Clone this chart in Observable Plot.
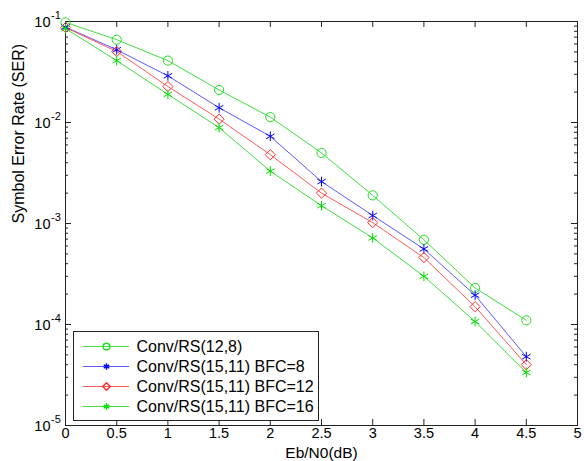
<!DOCTYPE html>
<html>
<head>
<meta charset="utf-8">
<script src="https://cdn.jsdelivr.net/npm/d3@7"></script>
<script src="https://cdn.jsdelivr.net/npm/@observablehq/plot@0.6"></script>
<style>
  html, body { margin: 0; padding: 0; background: #fff; }
  #wrap { position: relative; width: 584px; height: 461px; overflow: hidden; font-family: 'Liberation Sans', Arial, sans-serif; }
  #legend { position: absolute; left: 73px; top: 331px; }
</style>
</head>
<body>
<div id="wrap"><div id="chart"></div><div id="legend"></div></div>
<script>
// ---- data ----
const ebn0 = [0, 0.5, 1, 1.5, 2, 2.5, 3, 3.5, 4, 4.5];
const seriesNames = ["Conv/RS(12,8)", "Conv/RS(15,11) BFC=8", "Conv/RS(15,11) BFC=12", "Conv/RS(15,11) BFC=16"];
const serRS128 = [0.098, 0.066, 0.041, 0.021, 0.0113, 0.0050, 0.0019, 0.00069, 0.00023, 0.00011];
const serBFC8  = [0.088, 0.0525, 0.029, 0.014, 0.0073, 0.0026, 0.0012, 0.00056, 0.000195, 0.000048];
const serBFC12 = [0.087, 0.0505, 0.0227, 0.0108, 0.0048, 0.0020, 0.00102, 0.00046, 0.00015, 0.000040];
const serBFC16 = [0.085, 0.041, 0.019, 0.0089, 0.0033, 0.0015, 0.00072, 0.00030, 0.000107, 0.0000335];
const xTickValues = [0, 0.5, 1, 1.5, 2, 2.5, 3, 3.5, 4, 4.5, 5];
const xTickLabels = ["0", "0.5", "1", "1.5", "2", "2.5", "3", "3.5", "4", "4.5", "5"];
const yTickValues = [1e-1, 1e-2, 1e-3, 1e-4, 1e-5];
const yTickExponents = ["-1", "-2", "-3", "-4", "-5"];
const xLabel = "Eb/N0(dB)";
const yLabel = "Symbol Error Rate (SER)";

// ---- styles ----
const lineColors = ["#3ee03e", "#5a5aff", "#ff5a5a", "#3ee03e"];
const markColors = ["#22dd22", "#0000ff", "#ff3030", "#00dd00"];
const symbols = ["circle", "asterisk", "diamond2", "asterisk"];
const legendR = [5, 4, 5.2, 4];
const FONT = "'Liberation Sans', Arial, sans-serif";

const allSeries = [serRS128, serBFC8, serBFC12, serBFC16];
const rows = [];
allSeries.forEach((s, si) => s.forEach((v, i) => rows.push({name: seriesNames[si], si, x: ebn0[i], y: v})));

const yMinor = [];
for (const dec of yTickValues.slice(1)) for (let m = 2; m <= 9; m++) yMinor.push(m * dec);
const xTicks = xTickValues.map((v, i) => ({v, label: xTickLabels[i]}));
const yTicks = yTickValues.map((v, i) => ({v, e: yTickExponents[i]}));

const W = 584, H = 461, ML = 65, MR = 7, MT = 21, MB = 36;
const PW = W - ML - MR, PH = H - MT - MB;

const chart = Plot.plot({
  width: W, height: H,
  marginLeft: ML, marginRight: MR, marginTop: MT, marginBottom: MB,
  style: {fontFamily: FONT, background: "#fff", color: "#000"},
  x: {domain: [0, 5], axis: null},
  y: {type: "log", domain: [1e-5, 1e-1], axis: null},
  marks: [
    // ticks (inward), all four sides
    Plot.ruleX(xTickValues, {x: d => d, insetTop: PH - 6, stroke: "#222"}),
    Plot.ruleX(xTickValues, {x: d => d, insetBottom: PH - 6, stroke: "#222"}),
    Plot.ruleY(yTickValues, {y: d => d, insetRight: PW - 6, stroke: "#222"}),
    Plot.ruleY(yTickValues, {y: d => d, insetLeft: PW - 6, stroke: "#222"}),
    Plot.ruleY(yMinor, {y: d => d, insetRight: PW - 3, stroke: "#222"}),
    Plot.ruleY(yMinor, {y: d => d, insetLeft: PW - 3, stroke: "#222"}),
    Plot.frame({stroke: "#222"}),
    // tick labels
    Plot.text(xTicks, {x: "v", text: "label", frameAnchor: "bottom", dy: 12, fontSize: 14.5}),
    Plot.text(yTicks, {y: "v", text: () => "10", frameAnchor: "left", dx: -15, dy: 1, textAnchor: "end", fontSize: 14.5}),
    Plot.text(yTicks, {y: "v", text: "e", frameAnchor: "left", dx: -14.5, dy: -6, textAnchor: "start", fontSize: 11}),
    // axis labels
    Plot.text([xLabel], {text: d => d, frameAnchor: "bottom", dy: 32, fontSize: 15.5}),
    Plot.text([yLabel], {text: d => d, frameAnchor: "left", dx: -47, rotate: -90, fontSize: 16}),
    // data
    Plot.line(rows, {x: "x", y: "y", z: "name", stroke: d => lineColors[d.si], strokeWidth: 1}),
    Plot.dot(rows, {x: "x", y: "y", symbol: d => symbols[d.si], stroke: d => markColors[d.si], r: 4.6, strokeWidth: 1})
  ]
});
document.getElementById("chart").appendChild(chart);

// ---- legend ----
const LW = 245, LH = 89;
const legRows = seriesNames.map((name, si) => ({name, si}));
const legend = Plot.plot({
  width: LW, height: LH,
  margin: 0,
  style: {fontFamily: FONT, background: "#fff", color: "#000", overflow: "visible"},
  y: {type: "point", domain: seriesNames, range: [14, 75.5], padding: 0, axis: null},
  marks: [
    Plot.frame({stroke: "#222", fill: "#fff"}),
    Plot.ruleY(legRows, {y: "name", insetLeft: 10, insetRight: LW - 56, stroke: d => lineColors[d.si], strokeWidth: 1.2}),
    Plot.dot(legRows, {y: "name", frameAnchor: "left", dx: 33, symbol: d => symbols[d.si], stroke: d => markColors[d.si], r: d => legendR[d.si]}),
    Plot.text(legRows, {y: "name", text: "name", frameAnchor: "left", dx: 63, textAnchor: "start", fontSize: 16})
  ]
});
document.getElementById("legend").appendChild(legend);
</script>
</body>
</html>
